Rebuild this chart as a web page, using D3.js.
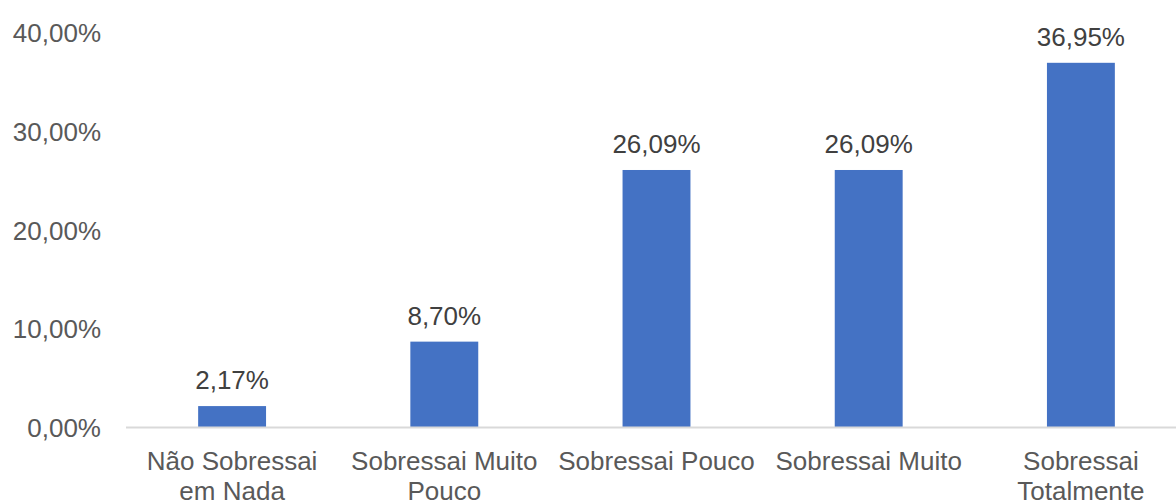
<!DOCTYPE html>
<html>
<head>
<meta charset="utf-8">
<script src="https://cdn.jsdelivr.net/npm/d3@7"></script>
<style>
  html, body { margin: 0; padding: 0; background: #ffffff; }
  svg { display: block; }
  text { font-family: "Liberation Sans", Arial, sans-serif; }
</style>
</head>
<body>
<svg id="chart" width="1176" height="503"></svg>
<script>
const categories = ["Não Sobressai em Nada", "Sobressai Muito Pouco", "Sobressai Pouco", "Sobressai Muito", "Sobressai Totalmente"];
const values = [2.17, 8.70, 26.09, 26.09, 36.95];
const yTicks = [0, 10, 20, 30, 40];

const W = 1176, H = 503;
const margin = { left: 126, right: -11, top: 33, bottom: 75 };
const svg = d3.select("#chart");

const locale = d3.formatLocale({ decimal: ",", thousands: ".", grouping: [3], currency: ["R$", ""] });
const fmt = v => locale.format(".2f")(v) + "%";

const x = d3.scaleBand()
  .domain(categories)
  .range([margin.left, W - margin.right])
  .paddingInner(0.68)
  .paddingOuter(0.34);

const y = d3.scaleLinear()
  .domain([0, 40])
  .range([427.5, 32.7]);

// y axis labels
const yAxis = d3.axisLeft(y).tickValues(yTicks).tickFormat(fmt).tickSize(0).tickPadding(0);
const gy = svg.append("g").attr("transform", "translate(101,0)").call(yAxis);
gy.select(".domain").remove();
gy.selectAll("text")
  .attr("fill", "#595959")
  .style("font-size", "26px")
  .attr("dy", "0.35em");

// bars
svg.append("g").selectAll("rect")
  .data(values)
  .join("rect")
  .attr("x", (d, i) => x(categories[i]))
  .attr("width", x.bandwidth())
  .attr("y", d => y(d))
  .attr("height", d => y(0) - y(d))
  .attr("fill", "#4472c4");

// x axis baseline + labels
const xAxis = d3.axisBottom(x).tickSize(0).tickPadding(0);
const gx = svg.append("g").attr("transform", `translate(0,${y(0)})`).call(xAxis);
gx.select(".domain").attr("stroke", "#d9d9d9").attr("stroke-width", 2)
  .attr("d", `M${margin.left},0H${W}`);
gx.selectAll(".tick text")
  .attr("fill", "#595959")
  .style("font-size", "26px")
  .attr("y", 0)
  .attr("dy", 0)
  .each(function(d) {
    const t = d3.select(this);
    const words = d.split(/\s+/);
    t.text(null);
    const maxW = x.step() - 4;
    let lines = [];
    let line = [];
    const tmp = t.append("tspan");
    words.forEach(w => {
      const test = line.concat([w]).join(" ");
      tmp.text(test);
      if (tmp.node().getComputedTextLength() > maxW && line.length) {
        lines.push(line.join(" "));
        line = [w];
      } else {
        line.push(w);
      }
    });
    lines.push(line.join(" "));
    tmp.remove();
    lines.forEach((l, i) => {
      t.append("tspan").attr("x", 0).attr("y", 42.5 + i * 30).text(l);
    });
  });

// data labels
svg.append("g").selectAll("text")
  .data(values)
  .join("text")
  .attr("x", (d, i) => x(categories[i]) + x.bandwidth() / 2)
  .attr("y", d => y(d) - 17)
  .attr("text-anchor", "middle")
  .attr("fill", "#404040")
  .style("font-size", "26px")
  .text(d => fmt(d));
</script>
</body>
</html>
